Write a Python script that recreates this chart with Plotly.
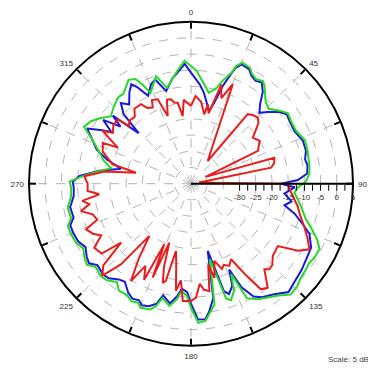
import plotly.graph_objects as go

# ---- data (angle in degrees, clockwise from top; gain in dBi) ----
green_theta = [0, 3, 5, 9, 11, 15, 17, 20, 21, 23, 27, 29, 32, 35, 37, 42, 46, 51, 54, 58, 63, 69, 74, 81, 85, 89,
               92, 95, 98, 102, 107, 110, 114, 117, 121, 124, 127, 131, 134, 138, 142, 146, 150, 154, 156, 158, 161,
               163, 166, 169, 174, 177, 180, 182, 185, 187, 190, 194, 196, 198, 202, 204, 207, 210, 214, 217, 221,
               224, 229, 232, 235, 239, 243, 247, 251, 254, 259, 264, 268, 271, 274, 277, 281, 285, 289, 294, 298,
               302, 306, 310, 315, 320, 323, 329, 332, 334, 336, 342, 346, 353, 357]
green_db = [-8.7, -10.2, -12.1, -15.0, -16.4, -14.4, -11.8, -8.6, -6.1, -4.4, -4.9, -6.2, -7.0, -6.3, -7.3, -10.6,
            -11.7, -9.3, -8.0, -8.6, -8.7, -7.4, -7.6, -8.0, -8.3, -9.5, -12.0, -13.0, -11.8, -10.2, -8.0, -5.6,
            -2.3, -0.5, -0.6, -1.1, -0.7, -0.3, 0.6, 1.0, -1.2, -2.6, -3.8, -5.7, -14.5, -9.5, -7.0, -8.0, -21.0,
            -7.0, -2.4, -2.0, -6.7, -10.3, -11.7, -9.0, -6.7, -8.6, -5.7, -4.2, -3.7, -4.8, -4.3, -5.4, -5.2, -7.0,
            -5.5, -5.2, -5.9, -4.3, -4.9, -6.2, -5.1, -4.8, -4.8, -6.5, -6.2, -7.8, -8.0, -7.5, -11.5, -15.5,
            -19.8, -17.0, -15.1, -11.7, -7.6, -8.6, -10.5, -12.7, -11.3, -10.1, -10.3, -7.6, -8.4, -11.0, -14.3,
            -10.1, -14.5, -10.0, -7.0]

blue_theta = [0, 5, 8, 14, 16, 18, 20, 21, 23, 27, 29, 32, 35, 38, 41, 44, 47, 51, 54, 58, 63, 69, 74, 78, 81, 85,
              88, 90, 92, 96, 100, 103, 106, 110, 113, 118, 123, 128, 134, 138, 143, 148, 151, 154, 156, 158, 161,
              163, 166, 169, 172, 174, 177, 180, 182, 185, 187, 190, 194, 196, 199, 202, 204, 207, 210, 214, 217,
              221, 224, 229, 232, 235, 239, 243, 247, 251, 254, 259, 264, 268, 271, 274, 278, 282, 286, 290, 295,
              298, 301, 303, 306, 309, 311, 314, 316, 319, 322, 326, 329, 331, 334, 338, 341, 345, 350, 353, 357]
blue_db = [-10.7, -14.2, -16.6, -21.9, -19.0, -13.3, -9.0, -6.8, -5.0, -5.4, -6.7, -7.5, -6.9, -9.0, -12.5, -14.6,
           -12.5, -9.8, -8.5, -9.0, -9.2, -8.0, -8.1, -9.0, -8.6, -9.0, -12.0, -17.2, -13.0, -16.0, -13.5, -15.4,
           -11.8, -8.2, -5.3, -3.0, -2.5, -1.7, -0.9, 0.0, -2.3, -3.7, -5.2, -9.4, -16.0, -11.0, -9.0, -10.3,
           -23.6, -9.0, -5.0, -2.9, -3.0, -8.0, -11.5, -12.5, -10.0, -7.5, -9.5, -6.5, -5.0, -4.5, -5.6, -5.2,
           -6.2, -8.5, -8.0, -6.3, -6.0, -6.7, -5.1, -5.7, -7.0, -5.9, -5.6, -5.6, -7.3, -7.0, -8.6, -8.8, -8.5,
           -10.5, -16.5, -22.9, -18.0, -14.0, -11.0, -8.7, -13.0, -15.7, -11.5, -17.0, -13.0, -22.5, -15.0, -12.0,
           -14.0, -11.0, -9.2, -11.0, -14.8, -12.0, -11.0, -15.4, -12.0, -10.5, -8.0]

red_theta = [0, 3, 7, 10.8, 12, 14, 17, 19.5, 22.8, 36.3, 39.2, 42, 45.3, 48, 51, 53.3, 58, 63.9, 65, 72.7, 76,
             78.7, 82, 89, 90, 95, 101.8, 106, 111, 115.5, 119, 122, 125.7, 131.5, 135, 137.5, 139.4, 143.6, 146.5,
             149, 152.1, 155, 158, 160, 163.2, 166, 168, 170.3, 173, 175, 177.5, 180, 184, 186, 188, 190.5, 192.6,
             194.5, 195.9, 198, 200.2, 202.2, 203.8, 206, 209, 211.7, 215, 218.6, 221, 224, 227, 229.9, 232, 236.5,
             240, 243, 246.5, 249, 252.7, 256, 258.6, 261, 263.4, 266, 270, 274, 278, 281.3, 284, 290, 294.9,
             296.2, 300.8, 303.1, 307, 311.3, 313, 315.5, 320, 323, 327.8, 330, 333.3, 335, 338.5, 341, 344,
             346.7, 348.4, 350.7, 353, 355]
red_db = [-21.0, -17.9, -19.5, -23.2, -20.0, -22.6, -13.0, -17.0, -11.7, -36.3, -17.3, -16.5, -16.0, -17.0, -19.5,
          -21.2, -20.0, -22.0, -40.0, -18.1, -18.5, -19.8, -42.5, -34.0, -15.0, -14.0, -11.4, -10.0, -7.5, -5.1,
          -3.2, -6.0, -12.0, -11.3, -9.5, -9.2, -10.2, -5.1, -5.9, -12.0, -18.6, -17.0, -18.0, -17.0, -20.1,
          -15.0, -19.5, -11.4, -12.0, -14.0, -9.8, -8.8, -8.7, -15.0, -11.6, -20.0, -23.7, -14.0, -13.2, -18.0,
          -25.6, -13.7, -24.6, -12.0, -16.0, -9.7, -17.0, -24.4, -12.0, -5.6, -8.0, -16.8, -10.0, -9.2, -13.0,
          -11.0, -9.7, -14.0, -13.2, -10.0, -13.0, -11.0, -16.5, -13.0, -13.1, -12.0, -18.0, -27.7, -20.0, -16.0,
          -15.0, -19.8, -13.3, -16.2, -15.0, -14.9, -18.9, -17.8, -18.0, -16.0, -16.0, -18.0, -18.7, -16.5, -17.0,
          -22.9, -18.0, -18.2, -19.5, -19.7, -24.0, -19.0]

angle_ticks = [0, 22.5, 45, 67.5, 90, 112.5, 135, 157.5, 180, 202.5, 225, 247.5, 270, 292.5, 315, 337.5]
angle_labels = ["0", "", "45", "", "90", "", "135", "", "180", "", "225", "", "270", "", "315", ""]
grid_db = [-40, -35, -30, -25, -20, -15, -10, -5, 0]
scale_ticks = [-30, -27.5, -25, -22.5, -20, -17.5, -15, -12.5, -10, -7.5, -5, -2.5, 0, 2.5, 5]
scale_labels = ["-30", "", "-25", "", "-20", "", "-15", "", "-10", "", "-5", "", "0", "", "5"]
r_range = [-45, 5]


def closed(seq):
    return list(seq) + [seq[0]]


fig = go.Figure()
# invisible anchor for the grid subplot
fig.add_trace(go.Scatterpolar(r=[r_range[0]], theta=[0], mode="markers", marker=dict(opacity=0),
                              hoverinfo="skip", showlegend=False, subplot="polar"))
for th, db, col in [(blue_theta, blue_db, "rgb(25,25,215)"),
                    (green_theta, green_db, "rgb(40,215,40)"),
                    (red_theta, red_db, "rgb(232,30,30)")]:
    fig.add_trace(go.Scatterpolar(r=closed(db), theta=closed(th), mode="lines",
                                  line=dict(color=col, width=2), showlegend=False, subplot="polar2"))

dom_x = [21 / 376, 345 / 376]
dom_y = [32.3 / 370, 356.3 / 370]

fig.update_layout(
    width=376, height=370,
    margin=dict(l=0, r=0, t=0, b=0),
    paper_bgcolor="white",
    font=dict(family="Liberation Sans, Arial, sans-serif", color="#333"),
    showlegend=False,
    polar=dict(
        domain=dict(x=dom_x, y=dom_y),
        bgcolor="white",
        angularaxis=dict(rotation=90, direction="clockwise", tickmode="array",
                         tickvals=angle_ticks, ticktext=angle_labels,
                         ticks="outside", ticklen=3, tickcolor="rgba(0,0,0,0)",
                         tickfont=dict(size=8, color="#333"),
                         showline=False, showgrid=True, gridcolor="#b4b4b4", griddash="dash", gridwidth=1),
        radialaxis=dict(range=r_range, tickmode="array", tickvals=grid_db, showticklabels=False,
                        ticks="", showline=False, showgrid=True, gridcolor="#b4b4b4",
                        griddash="dash", gridwidth=1),
    ),
    polar2=dict(
        domain=dict(x=dom_x, y=dom_y),
        bgcolor="rgba(0,0,0,0)",
        angularaxis=dict(rotation=90, direction="clockwise", tickmode="array",
                         tickvals=angle_ticks, ticks="inside", ticklen=6, tickwidth=1.5, tickcolor="black",
                         showticklabels=False, showgrid=False, showline=True, linecolor="black", linewidth=2),
        radialaxis=dict(range=r_range, angle=0, tickangle=0, tickmode="array",
                        tickvals=scale_ticks, ticktext=scale_labels,
                        ticks="outside", ticklen=6, tickwidth=1.2, tickcolor="black",
                        tickfont=dict(size=8, color="#333"),
                        showgrid=False, showline=True, linecolor="black", linewidth=2,
                        side="clockwise"),
    ),
    annotations=[dict(text="Scale: 5 dBi", x=365 / 376, y=19 / 370, xref="paper", yref="paper",
                      xanchor="right", yanchor="middle", showarrow=False,
                      font=dict(size=8, color="#444"))],
    shapes=[
        dict(type="line", xref="paper", yref="paper", x0=78 / 376, x1=322 / 376, y0=7 / 370, y1=7 / 370,
             line=dict(color="#666", width=1)),
        dict(type="line", xref="paper", yref="paper", x0=78 / 376, x1=78 / 376, y0=7 / 370, y1=-0.02,
             line=dict(color="#666", width=1)),
        dict(type="line", xref="paper", yref="paper", x0=322 / 376, x1=322 / 376, y0=7 / 370, y1=-0.02,
             line=dict(color="#666", width=1)),
        dict(type="line", xref="paper", yref="paper", x0=232 / 376, x1=232 / 376, y0=7 / 370, y1=3 / 370,
             line=dict(color="#666", width=1)),
    ],
)

fig.write_html("out.html")
